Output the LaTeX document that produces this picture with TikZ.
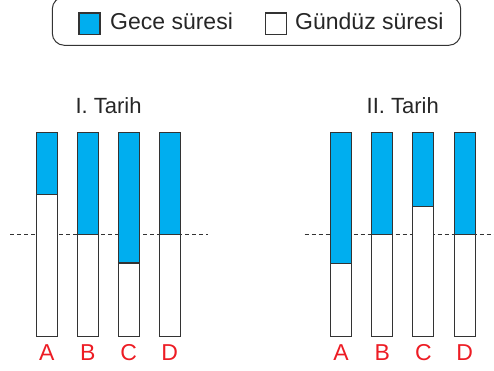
\documentclass[tikz,border=0pt]{standalone}
\usepackage{fontspec}
\setmainfont{Liberation Sans}
\definecolor{gece}{HTML}{00AEEF}
\definecolor{lbl}{HTML}{ED1C24}
\definecolor{edge}{HTML}{333333}
\begin{document}
\begin{tikzpicture}[x=1pt,y=-1pt,
  txt/.style={inner sep=0,anchor=base,font=\fontsize{22}{26}\selectfont,text=black!85},
  legtxt/.style={inner sep=0,anchor=base west,font=\fontsize{23}{27}\selectfont,text=black!85},
  letter/.style={inner sep=0,anchor=base,font=\fontsize{23}{27}\selectfont,text=lbl},
  barline/.style={draw=edge,line width=1.2pt},
  guide/.style={draw=edge,dash pattern=on 4pt off 3pt,line width=0.8pt},
  legbox/.style={draw=edge,line width=1pt,rounded corners=12pt}]
\useasboundingbox (0,0) rectangle (494,370);
% legend
\draw[legbox] (52.3,-3) rectangle (460.7,45.3);
\draw[barline,fill=gece] (79,13) rectangle (100,34.5);
\node[legtxt] (gece) at (110,29) {Gece süresi};
\draw[barline,fill=white] (265.5,13) rectangle (286.5,34.5);
\node[legtxt] (gunduz) at (295,29) {Gündüz süresi};
% titles
\node[txt] (t1) at (108.6,113) {I. Tarih};
\node[txt] (t2) at (402.7,113) {II. Tarih};
% dashed reference lines
\draw[guide] (10,234.3) -- (207.7,234.3);
\draw[guide] (304.7,234.3) -- (494,234.3);
% bars, first date
\foreach \c/\s/\n in {46.7/194.3/A,87.8/234.3/B,128.8/263/C,169.8/234.3/D}{
  \fill[white] (\c-10.5,132.7) rectangle (\c+10.5,336.3);
  \fill[gece] (\c-10.5,132.7) rectangle (\c+10.5,\s);
  \draw[barline] (\c-10.5,132.7) rectangle (\c+10.5,336.3);
  \draw[barline] (\c-10.5,\s) -- (\c+10.5,\s);
  \node[letter] (l\n1) at (\c,360.7) {\n};
}
% bars, second date
\foreach \c/\s/\n in {341/263.3/A,382.2/234.3/B,423.3/206.7/C,464.7/234.3/D}{
  \fill[white] (\c-10.5,132.7) rectangle (\c+10.5,336.3);
  \fill[gece] (\c-10.5,132.7) rectangle (\c+10.5,\s);
  \draw[barline] (\c-10.5,132.7) rectangle (\c+10.5,336.3);
  \draw[barline] (\c-10.5,\s) -- (\c+10.5,\s);
  \node[letter] (l\n2) at (\c,360.7) {\n};
}
\end{tikzpicture}
\end{document}
